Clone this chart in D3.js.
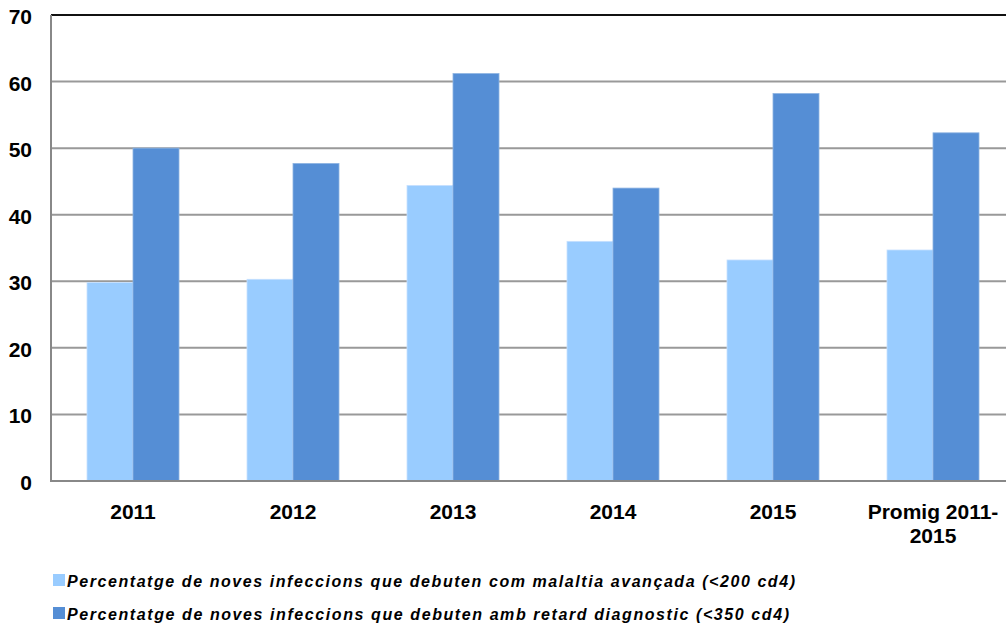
<!DOCTYPE html>
<html>
<head>
<meta charset="utf-8">
<script src="https://cdn.jsdelivr.net/npm/d3@7"></script>
<style>
  body { margin: 0; background: #fff; }
  svg { display: block; font-family: "Liberation Sans", Arial, sans-serif; }
  .grid line { stroke: #999; stroke-width: 2; }
</style>
</head>
<body>
<script>
var categories = ["2011", "2012", "2013", "2014", "2015", "Promig 2011-2015"]
var advanced = [29.8, 30.3, 44.4, 36.0, 33.2, 34.7]   // <200 cd4
var delayed = [50.0, 47.7, 61.2, 44.0, 58.2, 52.3]    // <350 cd4
var yTicks = [0, 10, 20, 30, 40, 50, 60, 70]
var seriesNames = [
  "Percentatge de noves infeccions que debuten com malaltia avançada (<200 cd4)",
  "Percentatge de noves infeccions que debuten amb retard diagnostic (<350 cd4)"
]
var colors = ["#99ccff", "#558ed5"]

var width = 1006, height = 625
var plotLeft = 51, plotRight = 1013, plotTop = 15, plotBottom = 481

var svg = d3.select("body").append("svg")
    .attr("width", width).attr("height", height)

var x = d3.scaleBand().domain(categories).range([plotLeft + 2, plotRight]).paddingInner(0.425).paddingOuter(0.2125)
var y = d3.scaleLinear().domain([0, 70]).range([plotBottom, plotTop])

// gridlines
svg.append("g").attr("class", "grid")
  .selectAll("line").data(yTicks.filter(function(d) { return d > 0 && d < 70 }))
  .enter().append("line")
    .attr("x1", plotLeft).attr("x2", width)
    .attr("y1", function(d) { return y(d) }).attr("y2", function(d) { return y(d) })

// top border
svg.append("line").attr("x1", plotLeft).attr("x2", width)
  .attr("y1", y(70)).attr("y2", y(70))
  .attr("stroke", "#111").attr("stroke-width", 2)

// bars
var rows = categories.map(function(c, i) { return {cat: c, vals: [advanced[i], delayed[i]]} })
var bw = x.bandwidth() / 2
var groups = svg.append("g").selectAll("g").data(rows).enter().append("g")
groups.selectAll("rect").data(function(d) { return d.vals.map(function(v, k) { return {cat: d.cat, v: v, k: k} }) })
  .enter().append("rect")
    .attr("x", function(d) { return x(d.cat) + d.k * bw })
    .attr("y", function(d) { return y(d.v) })
    .attr("width", bw)
    .attr("height", function(d) { return y(0) - y(d.v) })
    .attr("fill", function(d) { return colors[d.k] })
    .attr("stroke", function(d) { return d.k ? "#8db3e2" : "#c6e0ff" })
    .attr("stroke-width", 0.8)

// axes lines
svg.append("line").attr("x1", plotLeft).attr("x2", plotLeft).attr("y1", plotTop).attr("y2", plotBottom + 1)
  .attr("stroke", "#888").attr("stroke-width", 2)
svg.append("line").attr("x1", plotLeft).attr("x2", width).attr("y1", plotBottom).attr("y2", plotBottom)
  .attr("stroke", "#888").attr("stroke-width", 2)

// y tick labels
svg.append("g").selectAll("text").data(yTicks).enter().append("text")
  .attr("x", 32).attr("y", function(d) { return y(d) + 9 })
  .attr("text-anchor", "end")
  .attr("font-size", 21).attr("font-weight", "bold")
  .text(function(d) { return d })

// category labels
var catLabels = svg.append("g").selectAll("text").data(categories).enter().append("text")
  .attr("text-anchor", "middle")
  .attr("font-size", 21).attr("font-weight", "bold")
  .attr("x", function(d) { return x(d) + x.bandwidth() / 2 })
  .attr("y", 519)
catLabels.each(function(d) {
  var t = d3.select(this)
  if (d.indexOf("Promig") === 0) {
    t.append("tspan").attr("x", x(d) + x.bandwidth() / 2).attr("dy", 0).text("Promig 2011-")
    t.append("tspan").attr("x", x(d) + x.bandwidth() / 2).attr("dy", 24).text("2015")
  } else {
    t.text(d)
  }
})

// legend
var legendWidths = [728, 722]
var legend = svg.append("g").selectAll("g").data(seriesNames).enter().append("g")
  .attr("transform", function(d, i) { return "translate(53," + (574 + i * 33) + ")" })
legend.append("rect").attr("width", 12).attr("height", 12).attr("y", 0)
  .attr("fill", function(d, i) { return colors[i] })
legend.append("text").attr("x", 14).attr("y", 12.5)
  .attr("font-size", 16).attr("font-weight", "bold").attr("font-style", "italic")
  .attr("textLength", function(d, i) { return legendWidths[i] })
  .attr("lengthAdjust", "spacing")
  .text(function(d) { return d })
</script>
</body>
</html>
